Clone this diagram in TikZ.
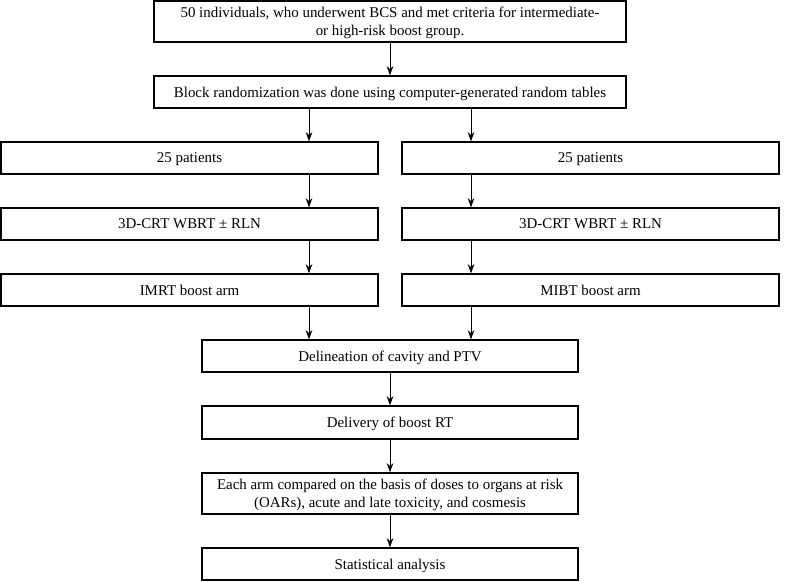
\documentclass[tikz,border=0pt]{standalone}
\usepackage{fontspec}
\setmainfont{Liberation Serif}
\usetikzlibrary{arrows.meta}
\begin{document}
\begin{tikzpicture}[x=0.75pt,y=-0.75pt,
  box/.style={draw=black,line width=0.9pt,inner sep=0pt,align=center,text depth=0pt,font=\fontsize{11.2}{13.5}\selectfont},
  arr/.style={line width=0.75pt,-{Stealth[length=7pt,width=5pt]}}]
\useasboundingbox (0,0) rectangle (791,581);
\node[box,minimum width=354pt,minimum height=30.75pt] (top) at (390,21.5) {50 individuals, who underwent BCS and met criteria for intermediate-\\or high-risk boost group.};
\node[box,minimum width=354pt,minimum height=24pt] (rand) at (390,92) {Block randomization was done using computer-generated random tables};
\node[box,minimum width=282.75pt,minimum height=24pt] (l1) at (189.5,158) {25 patients};
\node[box,minimum width=282.75pt,minimum height=24pt] (r1) at (590.5,158) {25 patients};
\node[box,minimum width=282.75pt,minimum height=24pt] (l2) at (189.5,224) {3D-CRT WBRT ± RLN};
\node[box,minimum width=282.75pt,minimum height=24pt] (r2) at (590.5,224) {3D-CRT WBRT ± RLN};
\node[box,minimum width=282.75pt,minimum height=24pt] (l3) at (189.5,290) {IMRT boost arm};
\node[box,minimum width=282.75pt,minimum height=24pt] (r3) at (590.5,290) {MIBT boost arm};
\node[box,minimum width=282pt,minimum height=24pt] (c1) at (390,356) {Delineation of cavity and PTV};
\node[box,minimum width=282pt,minimum height=24.75pt] (c2) at (390,422.5) {Delivery of boost RT};
\node[box,minimum width=282pt,minimum height=30.75pt] (c3) at (390,493.5) {Each arm compared on the basis of doses to organs at risk\\(OARs), acute and late toxicity, and cosmesis};
\node[box,minimum width=282pt,minimum height=24pt] (c4) at (390,564) {Statistical analysis};
\coordinate (lx) at (309,0);
\coordinate (rx) at (471,0);
\draw[arr] (top) -- (rand);
\draw[arr] (rand.south -| lx) -- (l1.north -| lx);
\draw[arr] (rand.south -| rx) -- (r1.north -| rx);
\draw[arr] (l1.south -| lx) -- (l2.north -| lx);
\draw[arr] (r1.south -| rx) -- (r2.north -| rx);
\draw[arr] (l2.south -| lx) -- (l3.north -| lx);
\draw[arr] (r2.south -| rx) -- (r3.north -| rx);
\draw[arr] (l3.south -| lx) -- (c1.north -| lx);
\draw[arr] (r3.south -| rx) -- (c1.north -| rx);
\draw[arr] (c1) -- (c2);
\draw[arr] (c2) -- (c3);
\draw[arr] (c3) -- (c4);
\end{tikzpicture}
\end{document}
